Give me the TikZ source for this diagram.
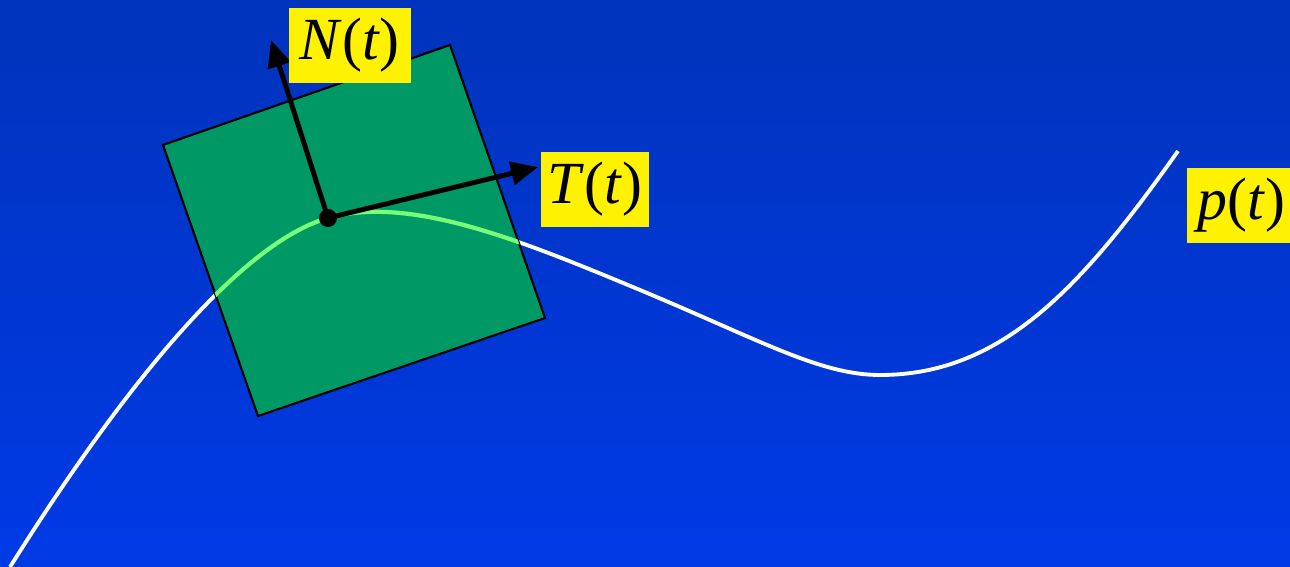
\documentclass[tikz,border=0pt]{standalone}
\usepackage{fontspec}
\setmainfont{Liberation Serif}
\usepackage{tikz}
\usetikzlibrary{arrows.meta, positioning}
\definecolor{bgtop}{RGB}{0,51,187}
\definecolor{bgbottom}{RGB}{0,58,230}
\definecolor{planegreen}{RGB}{0,153,102}
\definecolor{curvegreen}{RGB}{120,255,120}
\tikzset{
	lbl/.style={fill=yellow, text=black, inner xsep=0.07cm, inner ysep=0pt,
		minimum height=0.75cm, font=\fontsize{17}{20}\selectfont}
}
\tikzset{
	vec/.style={line width=1.4pt, -{Triangle[length=0.27cm, width=0.23cm]}}
}
\newcommand{\curvepath}{(10,567) .. controls (140,360) and (250,240) .. (328,218)
  .. controls (410,195) and (520,240) .. (640,290)
  .. controls (760,340) and (820,375) .. (880,375)
  .. controls (1000,375) and (1080,290) .. (1178,151)}

\begin{document}
\begin{tikzpicture}[x=0.01cm, y=-0.01cm]
      \useasboundingbox (0,0) rectangle (1290,567);
      \shade[top color=bgtop, bottom color=bgbottom] (0,0) rectangle (1290,567);
      % curve p(t)
      \draw[white, line width=1.1pt] \curvepath;
      % osculating plane
      \draw[line width=0.6pt, fill=planegreen] (163,145) -- (450,45) -- (545,318) -- (258,416) -- cycle;
      \begin{scope}
        \clip (163,145) -- (450,45) -- (545,318) -- (258,416) -- cycle;
        \draw[curvegreen, line width=1.2pt] \curvepath;
      \end{scope}
      \coordinate (pt) at (328,218);
      \coordinate (ntip) at (271,40);
      \coordinate (ttip) at (538,167);
      \draw[vec] (pt) -- (ntip);
      \draw[vec] (pt) -- (ttip);
      \fill (pt) circle (0.09cm);
      \node[lbl, anchor=north west, minimum width=1.22cm] (nlabel) at (288,7) {\textit{N}(\textit{t})};
      \node[lbl, anchor=north west, minimum width=1.08cm] (tlabel) at (540,151) {\textit{T}(\textit{t})};
      \node[lbl, anchor=north west, minimum width=1.1cm] (plabel) at (1186,167) {\textit{p}(\textit{t})};
    \end{tikzpicture}
\end{document}
